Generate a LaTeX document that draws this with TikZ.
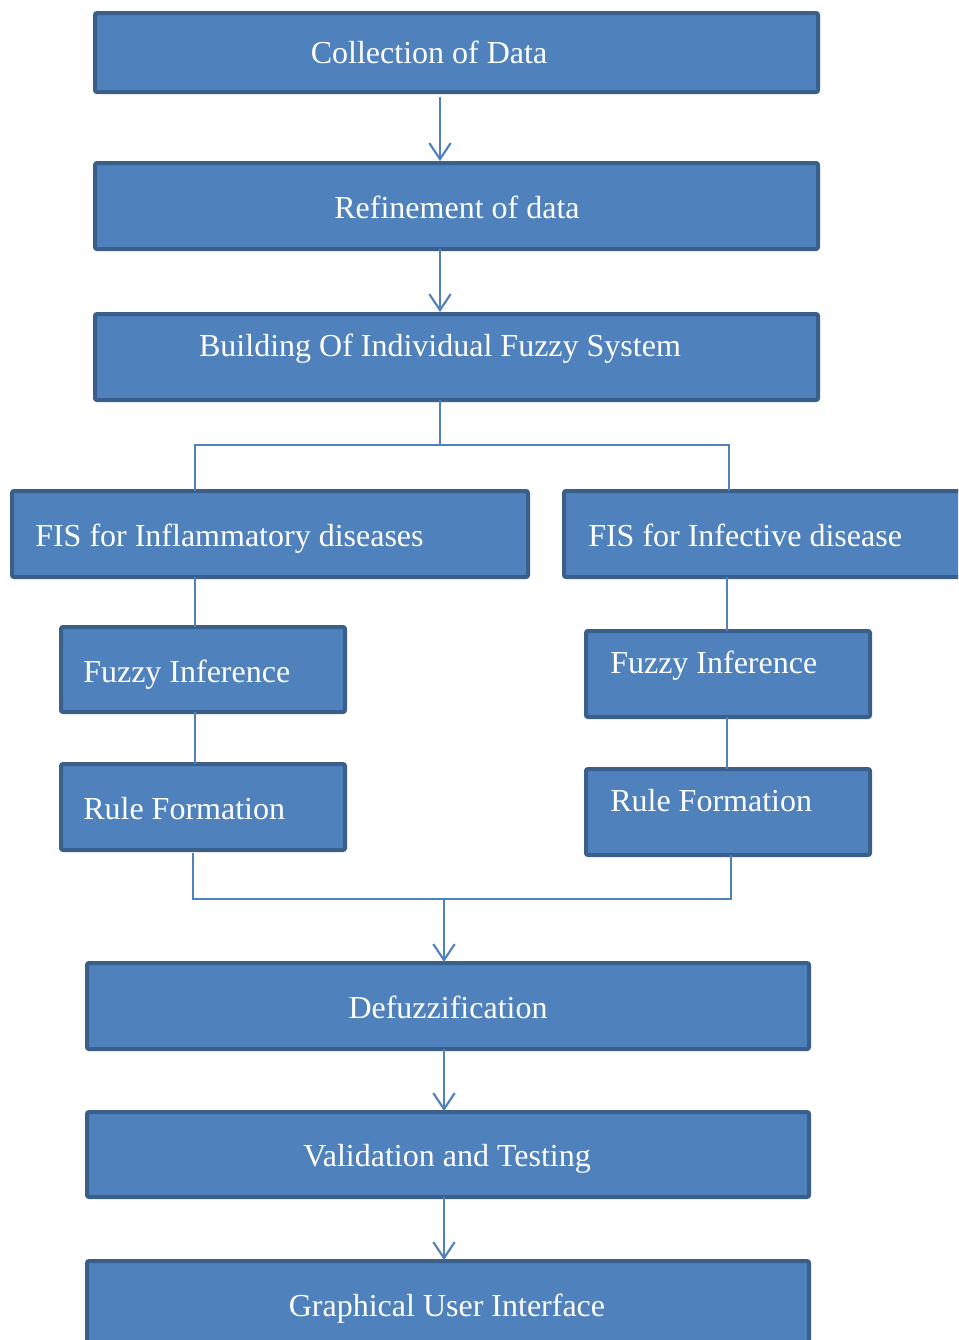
\documentclass[tikz,border=0pt]{standalone}
\usepackage{fontspec}
\setmainfont{Liberation Serif}
\usetikzlibrary{arrows.meta}
\definecolor{boxfill}{HTML}{4F81BD}
\definecolor{boxdraw}{HTML}{3A5F8B}
\definecolor{linecol}{HTML}{4F81BD}
\tikzset{
  box/.style={draw=boxdraw, fill=boxfill, line width=3pt, rounded corners=1.5pt, inner sep=0pt},
  txt/.style={text=white, font=\fontsize{24}{28}\selectfont, inner sep=0pt, anchor=base},
  ltxt/.style={txt, anchor=base west},
  conn/.style={draw=linecol, line width=1.4pt},
  arr/.style={conn, line width=1.6pt, -{Straight Barb[length=12pt, width=16pt, line width=1.6pt]}},
}
\begin{document}
\begin{tikzpicture}[x=0.75pt, y=-0.75pt]
\useasboundingbox (0,0) rectangle (958,1340);
\clip (0,0) rectangle (958,1340);
% boxes
\node[box, minimum width=723*0.75pt, minimum height=79*0.75pt] (b1) at (456.5,52.5) {};
\node[box, minimum width=723*0.75pt, minimum height=86*0.75pt] (b2) at (456.5,206) {};
\node[box, minimum width=723*0.75pt, minimum height=86*0.75pt] (b3) at (456.5,357) {};
\node[box, minimum width=516*0.75pt, minimum height=86*0.75pt] (b4) at (270,534) {};
\node[box, minimum width=420*0.75pt, minimum height=86*0.75pt] (b5) at (774,534) {};
\node[box, minimum width=284*0.75pt, minimum height=85*0.75pt] (b6) at (203,669.5) {};
\node[box, minimum width=284*0.75pt, minimum height=86*0.75pt] (b7) at (203,807) {};
\node[box, minimum width=284*0.75pt, minimum height=86*0.75pt] (b8) at (728,674) {};
\node[box, minimum width=284*0.75pt, minimum height=86*0.75pt] (b9) at (728,812) {};
\node[box, minimum width=722*0.75pt, minimum height=86*0.75pt] (b10) at (448,1006) {};
\node[box, minimum width=722*0.75pt, minimum height=85*0.75pt] (b11) at (448,1154.5) {};
\node[box, minimum width=722*0.75pt, minimum height=100*0.75pt] (b12) at (448,1311) {};
% texts
\node[txt] (t1) at (429,63) {Collection of Data};
\node[txt] (t2) at (457,218) {Refinement of data};
\node[txt] (t3) at (440,356) {Building Of Individual Fuzzy System};
\node[ltxt] (t4) at (35,546) {FIS for Inflammatory diseases};
\node[ltxt] (t5) at (588,546) {FIS for Infective disease};
\node[ltxt] (t6) at (83,682) {Fuzzy Inference};
\node[ltxt] (t7) at (83,819) {Rule Formation};
\node[ltxt] (t8) at (610,673) {Fuzzy Inference};
\node[ltxt] (t9) at (610,811) {Rule Formation};
\node[txt] (t10) at (448,1018) {Defuzzification};
\node[txt] (t11) at (447,1166) {Validation and Testing};
\node[txt] (t12) at (447,1316) {Graphical User Interface};
% connectors
\coordinate (s1) at (440,97);
\draw[arr] (s1) -- (s1 |- b2.north);
\draw[arr] (440,249) -- (440,312);
\coordinate (j1) at (440,445);
\draw[conn] (440,400) -- (j1);
\draw[conn] (195,491) -- (195,445) -- (729,445) -- (729,491);
\draw[conn] (195,577) -- (195,627);
\draw[conn] (195,712) -- (195,764);
\draw[conn] (727,577) -- (727,631);
\draw[conn] (727,717) -- (727,769);
\coordinate (j2) at (444,899);
\draw[conn] (193,853) -- (193,899) -- (731,899) -- (731,855);
\draw[arr] (j2) -- (444,962);
\draw[arr] (444,1049) -- (444,1111);
\draw[arr] (444,1197) -- (444,1260);
\end{tikzpicture}
\end{document}
